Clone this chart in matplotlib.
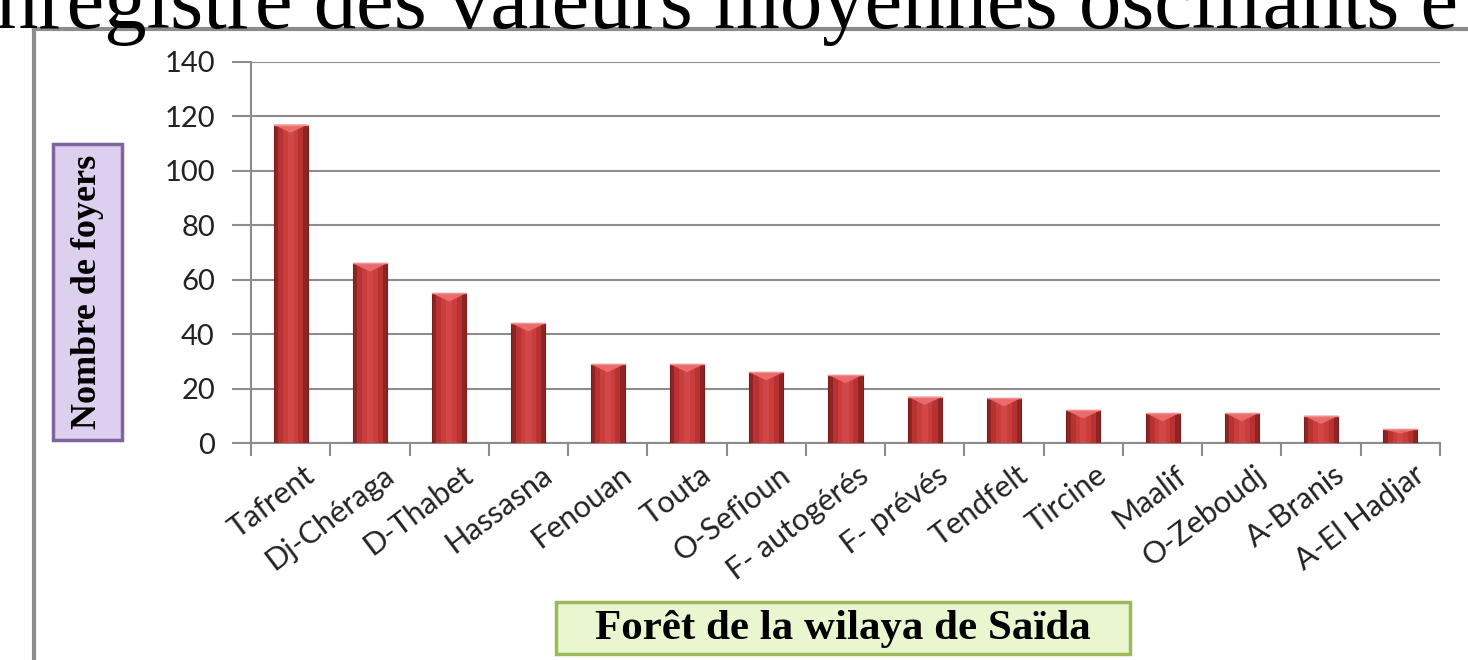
import matplotlib
matplotlib.use("Agg")
import matplotlib.pyplot as plt
from matplotlib.patches import FancyBboxPatch
from matplotlib.lines import Line2D
import numpy as np

categories = ["Tafrent", "Dj-Chéraga", "D-Thabet", "Hassasna", "Fenouan", "Touta",
              "O-Sefioun", "F- autogérés", "F- prévés", "Tendfelt", "Tircine",
              "Maalif", "O-Zeboudj", "A-Branis", "A-El Hadjar"]
values = [117, 66, 55, 44, 29, 29, 26, 25, 17, 16.5, 12, 11, 11, 10, 5]
yticks = [0, 20, 40, 60, 80, 100, 120, 140]
title_text = "nregistre des valeurs moyennes oscillants e"
ylabel_text = "Nombre de foyers"
xlabel_text = "Forêt de la wilaya de Saïda"

W, H = 1468, 660
fig = plt.figure(figsize=(W / 100, H / 100), dpi=100)
fig.patch.set_facecolor("white")

def fx(px):
    return px / W

def fy(py):
    return 1 - py / H

# cropped title at top
fig.text(fx(-4), fy(28), title_text, family="Liberation Serif", fontsize=61,
         ha="left", va="baseline", color="black", zorder=10)

# outer chart frame (extends beyond right/bottom)
fig.add_artist(Line2D([fx(34), fx(1475)], [fy(29), fy(29)], color="#8c8c8c", lw=3, zorder=1))
fig.add_artist(Line2D([fx(34), fx(34)], [fy(29), fy(670)], color="#8c8c8c", lw=3, zorder=1))

ax = fig.add_axes([fx(251), fy(443), fx(1440) - fx(251), fy(62) - fy(443)])
ax.set_xlim(-0.5, len(categories) - 0.5)
ax.set_ylim(0, 140)

x = np.arange(len(categories))
bw = 0.43
# bar body: dark base, lighter inner
ax.bar(x, values, width=bw, color="#8f2424", edgecolor="#7a1e1e", linewidth=0.8, zorder=3)
ax.bar(x, values, width=bw * 0.75, color="#b83232", linewidth=0, zorder=4)
ax.bar(x, values, width=bw * 0.45, color="#c93d3d", linewidth=0, zorder=5)
ax.bar(x, values, width=bw * 0.18, color="#d24646", linewidth=0, zorder=5)
# top highlight cap
for xi, v in zip(x, values):
    cap = min(3.0, v * 0.3)
    ax.fill([xi - bw / 2, xi + bw / 2, xi], [v, v, v - cap], color="#ea6b6b", zorder=6, lw=0)
    ax.plot([xi - bw / 2, xi + bw / 2], [v, v], color="#f29090", lw=1, zorder=7)

ax.set_yticks(yticks)
ax.set_yticklabels([str(t) for t in yticks], family="Lato", fontsize=21, color="#222222")
ax.yaxis.grid(True, color="#8c8c8c", lw=1.5, zorder=0)
ax.set_axisbelow(True)
ax.tick_params(axis="y", length=14, width=1.5, color="#8c8c8c", pad=12)

ax.set_xticks(np.arange(-0.5, len(categories), 1.0))
ax.set_xticklabels([])
ax.tick_params(axis="x", length=9, width=1.5, color="#8c8c8c")
for xi, lab in zip(x, categories):
    ax.text(xi + 0.15, -6.5, lab, rotation=37, ha="right", va="top",
            rotation_mode="anchor", family="Lato", fontsize=22, color="#222222")

for s in ["top", "right"]:
    ax.spines[s].set_visible(False)
for s in ["left", "bottom"]:
    ax.spines[s].set_color("#8c8c8c")
    ax.spines[s].set_linewidth(1.5)

# y label box
ybox = FancyBboxPatch((fx(53), fy(440)), fx(122) - fx(53), fy(144) - fy(440),
                      boxstyle="square,pad=0", transform=fig.transFigure,
                      facecolor="#ddd0ee", edgecolor="#8064a2", lw=2.5)
fig.add_artist(ybox)
fig.text(fx(88), fy(292), ylabel_text, rotation=90, ha="center", va="center",
         family="Liberation Serif", fontweight="bold", fontsize=26, color="black")

# x label box
xbox = FancyBboxPatch((fx(556), fy(654)), fx(1130) - fx(556), fy(602) - fy(654),
                      boxstyle="square,pad=0", transform=fig.transFigure,
                      facecolor="#eaf6cf", edgecolor="#9bbb59", lw=2.5)
fig.add_artist(xbox)
fig.text(fx(843), fy(629), xlabel_text, ha="center", va="center",
         family="Liberation Serif", fontweight="bold", fontsize=31, color="black")

fig.savefig("out.png", dpi=100)
